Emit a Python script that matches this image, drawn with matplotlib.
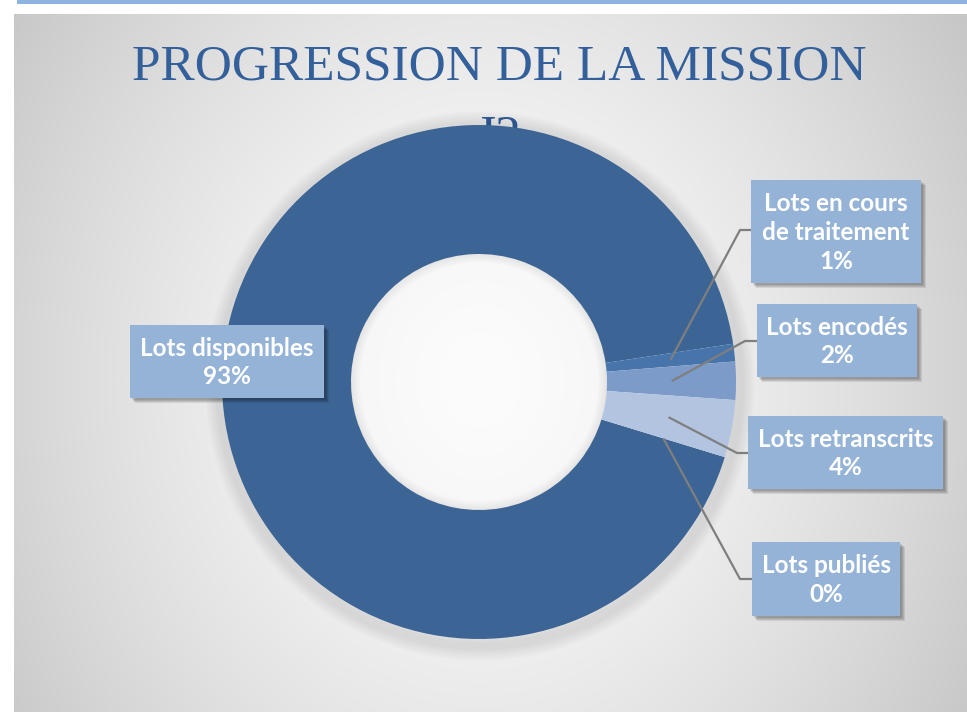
import numpy as np
import matplotlib.pyplot as plt
from matplotlib.patches import Rectangle, Circle, Wedge

W, H = 967, 712

# ── data ──────────────────────────────────────────────────────────────────────
categories = ['Lots disponibles', 'Lots en cours\nde traitement', 'Lots encodés',
              'Lots retranscrits', 'Lots publiés']
values = [92.9, 1.1, 2.4, 3.6, 0.0]
pct_labels = ['93%', '1%', '2%', '4%', '0%']
title = 'PROGRESSION DE LA MISSION'
subtitle = 'J2'

# ── style / layout (pixel coords, y from top) ────────────────────────────────
slice_colors = ['#3C6595', '#4674AB', '#7D9BC8', '#B3C4E0', '#C6D3E8']
box_color = '#95B3D7'
title_color = '#33609A'
cx, cy, R, ring = 479, 382, 257, 129
# label boxes: (left, top, width, height)
boxes = [(130, 325, 194, 73), (751, 180, 170, 103), (757, 304, 160, 73),
         (748, 416, 195, 73), (752, 542, 148, 74)]
# leader elbows: (elbow x, elbow y, end x)
elbows = [None, (740, 230, 751), (745, 341, 757), (737, 453, 748), (740, 579, 752)]


def Y(py):
    return H - py


fig = plt.figure(figsize=(W / 100, H / 100), dpi=100)
ax = fig.add_axes([0, 0, 1, 1])

# background: radial grey gradient, bright at the donut centre
x0, y0 = 14, 14
yy, xx = np.mgrid[y0:H, x0:W]
r = np.hypot(xx - 480, (yy - 380) * 0.85) / 620
g = np.clip(252 - 60 * r ** 1.5, 0, 255) / 255
ax.imshow(np.dstack([g, g, g]), extent=(x0, W, 0, H - y0), origin='upper',
          zorder=0, interpolation='bilinear')
ax.add_patch(Rectangle((17, H - 4), W - 17, 4, color='#8DB3E2', zorder=1, lw=0))

# title (drawn under the donut, J2 is partly hidden like the original)
ax.text(499, Y(79), title, ha='center', va='baseline', fontsize=37,
        family='Liberation Serif', color=title_color, zorder=2)
ax.text(499, Y(150), subtitle, ha='center', va='baseline', fontsize=37,
        family='Liberation Serif', color=title_color, zorder=2)

# soft shadow outside the ring and inside the hole
for i in range(12):
    ax.add_patch(Wedge((cx + 1, Y(cy) - 4), R + i * 1.6, 0, 360, width=12,
                       color='black', alpha=0.012, lw=0, zorder=3))
for i in range(6):
    ax.add_patch(Wedge((cx, Y(cy)), R - ring + 0.5, 0, 360, width=1.5 + i * 1.5,
                       color='black', alpha=0.012, lw=0, zorder=3))

wedges, _ = ax.pie(values, colors=slice_colors, startangle=-17, counterclock=False,
                   center=(cx, Y(cy)), radius=R, frame=True,
                   wedgeprops=dict(width=ring, edgecolor='none', linewidth=0))
for w in wedges:
    w.set_zorder(4)

# leader lines from each small slice to its box
for w, el in zip(wedges, elbows):
    if el is None:
        continue
    mid = np.deg2rad((w.theta1 + w.theta2) / 2)
    sx = cx + 0.75 * R * np.cos(mid)
    sy = Y(cy) + 0.75 * R * np.sin(mid)
    ax.plot([sx, el[0], el[2]], [sy, Y(el[1]), Y(el[1])], color='#7F7F7F',
            lw=1.6, zorder=5, solid_capstyle='butt')

# label boxes
for (bx, by, bw, bh), cat, pct in zip(boxes, categories, pct_labels):
    for k in range(4):
        ax.add_patch(Rectangle((bx + 2 + k, Y(by + bh) - 2 - k), bw, bh,
                               color='black', alpha=0.09, lw=0, zorder=6))
    ax.add_patch(Rectangle((bx, Y(by + bh)), bw, bh, color=box_color, lw=0, zorder=7))
    ax.text(bx + bw / 2, Y(by + bh / 2) - 1, cat + '\n' + pct, ha='center',
            va='center', multialignment='center', fontsize=17.5, fontweight='bold',
            family='Lato', color='white', linespacing=1.3, zorder=8)

ax.set_xlim(0, W)
ax.set_ylim(0, H)
ax.set_aspect('auto')
ax.axis('off')

fig.savefig('out.png', dpi=100)
